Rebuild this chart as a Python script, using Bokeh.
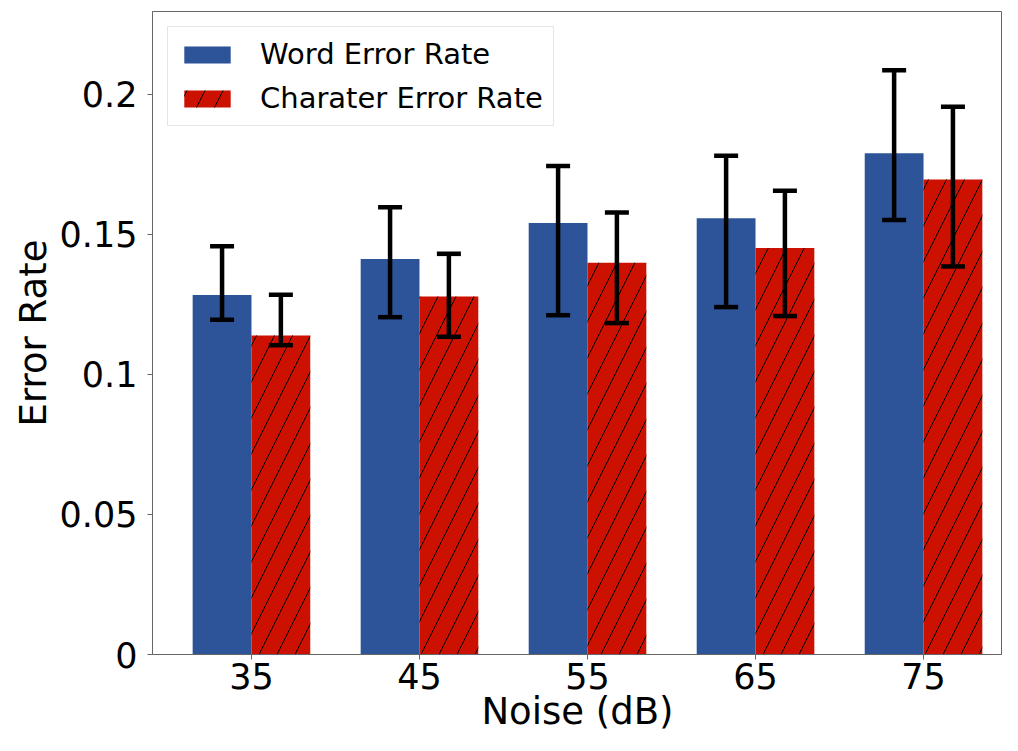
from bokeh.plotting import figure
from bokeh.models import ColumnDataSource, Whisker, TeeHead, FixedTicker, NumeralTickFormatter, Range1d
from bokeh.embed import file_html
from bokeh.resources import INLINE

noise = ["35", "45", "55", "65", "75"]
wer = [0.1283, 0.1412, 0.1540, 0.1557, 0.1789]
wer_upper = [0.1457, 0.1596, 0.1744, 0.1780, 0.2085]
wer_lower = [0.1195, 0.1204, 0.1211, 0.1240, 0.1551]
cer = [0.1139, 0.1278, 0.1398, 0.1451, 0.1695]
cer_upper = [0.1284, 0.1430, 0.1578, 0.1655, 0.1955]
cer_lower = [0.1104, 0.1134, 0.1183, 0.1208, 0.1385]

BAR_W = 0.35
idx = list(range(len(noise)))
src_w = ColumnDataSource(dict(x=[i - BAR_W / 2 for i in idx], top=wer, upper=wer_upper, lower=wer_lower))
src_c = ColumnDataSource(dict(x=[i + BAR_W / 2 for i in idx], top=cer, upper=cer_upper, lower=cer_lower))

FONT = "DejaVu Sans"
p = figure(width=1002, height=735, output_backend="svg", toolbar_location=None,
           x_range=Range1d(-0.589, 4.470), y_range=Range1d(0, 0.2295),
           min_border_left=152, min_border_right=0, min_border_top=11, min_border_bottom=74)

p.vbar(x="x", top="top", width=BAR_W, source=src_w, fill_color="#2D5398",
       line_color=None, legend_label="Word Error Rate")
p.vbar(x="x", top="top", width=BAR_W, source=src_c, fill_color="#CC1100",
       line_color=None, hatch_pattern="/", hatch_color="black", hatch_weight=1,
       hatch_scale=36, legend_label="Charater Error Rate")

for src in (src_w, src_c):
    w = Whisker(source=src, base="x", upper="upper", lower="lower",
                line_color="black", line_width=4.5, level="overlay",
                upper_head=TeeHead(size=24, line_width=4.5, line_color="black"),
                lower_head=TeeHead(size=24, line_width=4.5, line_color="black"))
    p.add_layout(w)

p.grid.visible = False
p.outline_line_color = "#666666"
p.outline_line_width = 1

p.xaxis.ticker = FixedTicker(ticks=idx)
p.xaxis.major_label_overrides = {i: n for i, n in zip(idx, noise)}
p.yaxis.ticker = FixedTicker(ticks=[0, 0.05, 0.1, 0.15, 0.2])
p.yaxis.formatter = NumeralTickFormatter(format="0.[00]")

for ax in (p.xaxis, p.yaxis):
    ax.axis_line_color = "#666666"
    ax.major_tick_line_color = "#666666"
    ax.major_tick_out = 5
    ax.major_tick_in = 0
    ax.minor_tick_line_color = None
    ax.major_label_text_font = FONT
    ax.major_label_text_font_size = "35px"
    ax.major_label_text_color = "black"
    ax.axis_label_text_font = FONT
    ax.axis_label_text_font_style = "normal"
    ax.axis_label_text_font_size = "37px"
    ax.axis_label_text_color = "black"

p.xaxis.axis_label = "Noise (dB)"
p.yaxis.axis_label = "Error Rate"
p.xaxis.major_label_standoff = 3
p.xaxis.axis_label_standoff = -2
p.yaxis.major_label_standoff = 10
p.yaxis.axis_label_standoff = 2

lg = p.legend[0]
lg.location = "top_left"
lg.margin = 15
lg.padding = 10
lg.spacing = 10
lg.glyph_width = 58
lg.glyph_height = 21
lg.label_standoff = 24
lg.label_text_font = FONT
lg.label_text_font_size = "29px"
lg.label_text_color = "black"
lg.border_line_color = "#cccccc"
lg.border_line_width = 1
lg.background_fill_alpha = 0.8

open("out.html", "w").write(file_html(p, INLINE))
